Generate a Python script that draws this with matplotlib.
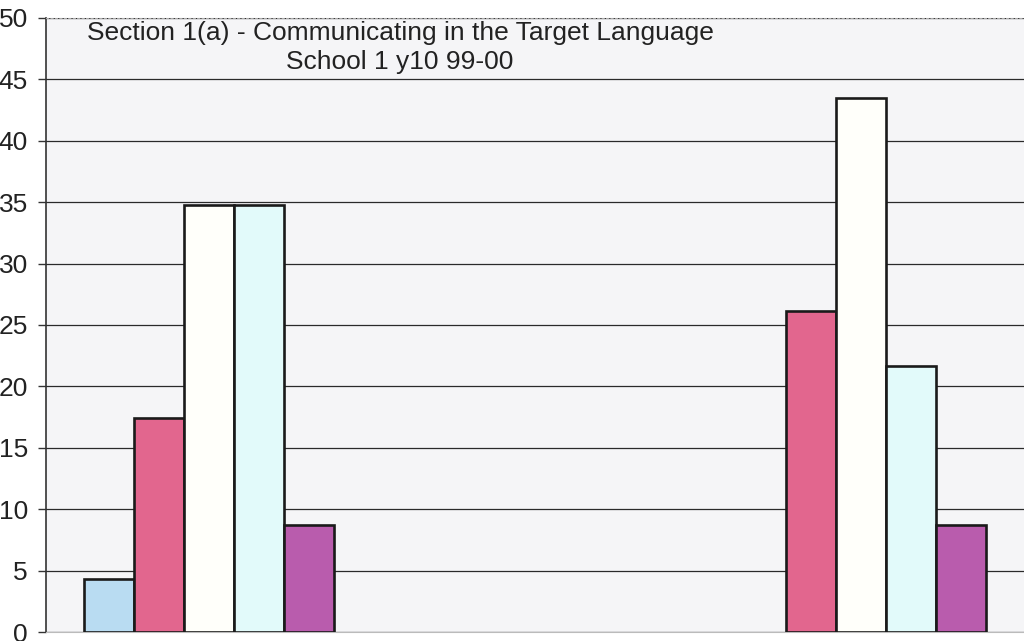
import numpy as np
import matplotlib.pyplot as plt

plt.rcParams['font.family'] = ['Liberation Sans', 'DejaVu Sans']

# three category slots, the middle one is empty in the scan
categories = ["1", "2", "3"]
series_names = ["A", "B", "C", "D", "E"]
values = [
    [4.3, 0, 0.0],
    [17.4, 0, 26.1],
    [34.8, 0, 43.5],
    [34.8, 0, 21.7],
    [8.7, 0, 8.7],
]
colors = ["#b9dcf2", "#e2668e", "#fffffa", "#e2fafa", "#b95cad"]

fig = plt.figure(figsize=(10.24, 6.41), dpi=100)
ax = fig.add_axes([0.045, 0.014, 0.955, 0.958])
ax.set_facecolor("#f5f5f7")

x = np.arange(len(categories))
w = 0.153
for i, name in enumerate(series_names):
    # skip empty slots (zero values are not drawn in the original)
    xs = [x[j] + (i - 2) * w for j in range(len(categories)) if values[i][j] > 0]
    vs = [v for v in values[i] if v > 0]
    ax.bar(xs, vs, width=w, color=colors[i], edgecolor="#1a1a1a",
           linewidth=1.9, zorder=3, label=name)

ax.set_ylim(0, 50)
ax.set_xlim(-0.5, 2.5)
ax.set_yticks(range(0, 51, 5))
ax.set_xticks([])
ax.yaxis.grid(True, color="#2a2a2a", linewidth=0.9, zorder=0)
ax.tick_params(axis="y", length=6, width=1, color="#333333",
               labelsize=19, pad=7, labelcolor="#222222")
ax.spines["left"].set_color("#333333")
ax.spines["left"].set_linewidth(1.2)
ax.spines["top"].set_color("#aaaaaa")
ax.spines["top"].set_linestyle((0, (2, 2)))
ax.spines["right"].set_visible(False)
ax.spines["bottom"].set_color("#bbbbbb")

ax.text(0.362, 0.995, "Section 1(a) - Communicating in the Target Language\nSchool 1 y10 99-00",
        transform=ax.transAxes, ha="center", va="top", fontsize=19,
        color="#222222", linespacing=1.25, zorder=5)

fig.savefig("out.png", dpi=100)
